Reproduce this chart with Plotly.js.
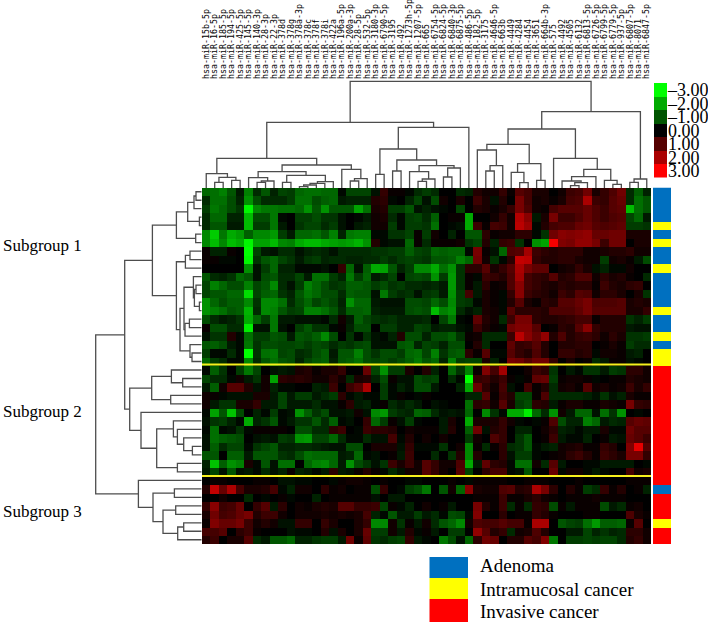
<!DOCTYPE html>
<html><head><meta charset="utf-8">
<script src="https://cdn.plot.ly/plotly-3.0.1.min.js"></script>
<style>html,body{margin:0;padding:0;background:#fff}</style></head>
<body><div id="chart" style="width:708px;height:623px"></div>
<script>
const mirSuffix = ["15b-5p","16-5p","185-5p","194-5p","425-5p","145-5p","140-3p","28-3p","22-3p","378d","378g","378a-3p","378c","378f","378i","422a","196a-5p","200a-3p","28-5p","532-5p","3180-3p","6790-5p","3195","492","1273h-5p","1207-5p","665","6754-5p","6824-5p","6840-3p","6875-5p","486-5p","182-5p","3175","4646-5p","663b","4449","4284","4454","3651","664b-3p","575","4492","4505","6132","6813-5p","6726-5p","6799-5p","6779-5p","937-5p","6807-5p","8071","6847-5p"];
const colLabels = mirSuffix.map(s => "hsa-miR-" + s);

const r0=[-1.2,-1.3,-1.5,-1,-.3,-1.5,-.5,-1,-.4,-.8,-.7,-1.2,-1.3,-1.3,-1.2,-1.2,-.1,-.8,-.8,-.8,-.2,.6,.1,.1,-.1,-.5,-.7,-.5,0,0,-.5,-.4,.4,.2,.2,.6,.1,1,.8,.3,.3,0,.2,.7,.8,1.3,.3,.6,.9,1.3,-.5,-1.1,-.4];
const r1=[-.5,-1.3,-1.3,-.9,-.4,-1.7,-.9,-.5,-.5,-.5,-.7,-1.3,-1.3,-.9,-1.1,-1.2,-.3,-.4,-.4,-.4,.4,.5,-.1,0,-.4,-.8,-.2,-.9,.2,0,.3,0,.7,.3,-.2,.4,0,1.4,.8,.2,.3,.1,.3,.8,.9,2,.7,.6,1,1.2,-.5,-1.3,-1];
const r2=[-.7,-1.4,-1.2,-.9,-.6,-2.9,-1.6,-1.4,-1.4,-1.3,-1.3,-1.2,-1.7,-1,-1.7,-1,-1,-1,-1.9,-1.3,.3,.4,-.7,-.7,-1,-.2,-.4,-.2,-.1,0,-.8,0,.4,.3,.1,.3,.6,1.4,.9,.2,.1,.8,1,1,1,1.2,.9,.7,1,1.1,-2.2,-1.3,-1];
const r3=[-.5,-1.2,-1.2,-.4,-.4,-2.2,-.9,-.9,-1.4,-.1,0,-.7,-.7,-.9,-.6,-.6,-.2,0,-.1,-.3,.2,.3,-.5,-.1,-.7,-.8,-.5,-1.1,0,.1,.1,-2,0,0,.2,.6,.2,2.1,1.6,-.3,.3,1.4,.7,.7,.9,1.2,.9,.7,.9,1,-.8,-1.2,-.3];
const r4=[-.5,-1,-1,-.3,-.3,-2.2,-.7,-.7,-1.4,-.3,0,-.6,-.8,-.8,-.5,-.7,-.2,0,-.3,-.4,.2,.2,-.7,-.1,-.7,-.7,-.6,-1.3,0,-.1,-.2,-2,.7,.1,.8,.7,.2,2.2,1.8,-.1,.4,.8,.9,.9,1.2,1.3,1,.9,1,1.1,-.7,-.7,-.6];
const r5=[-1.6,-2.4,-1.4,-2,-1.8,-1.1,-1.6,-1.6,-1.8,-.7,-.3,-1.2,-1.2,-1.3,-1,-1.5,-.4,-1.4,-1.5,-1.5,-.1,-.1,-.6,-.6,-.8,.1,-.7,.2,0,-.4,0,-1,-1,.5,.1,.2,.2,.5,.5,-.1,-.6,1.3,1.6,1.5,1.6,1.7,1.2,1.2,1.3,1.3,.3,.3,.3];
const r6=[-1.6,-2.2,-1.6,-2.2,-2,-2.9,-1.9,-1.9,-2.2,-1.6,-1.5,-2,-2.2,-2.2,-2,-1.9,-1.8,-1.9,-2.1,-1.7,.4,-.1,-.2,-.2,-1.2,.1,-.5,.1,.1,.1,.2,-.6,-.8,.4,-.4,.6,.7,-.6,0,-1.7,-1.9,2.9,1.5,1.4,1.7,1.7,1.4,.7,1.3,1.3,0,.3,.3];
const r7=[.1,-.4,-.4,.1,0,-3,-.8,-.3,-.2,-.5,-.5,-.2,-.4,-.5,-.4,-.2,-.5,-.5,-.5,-.5,-.6,-.6,-.7,-.7,-1.1,-.8,-.7,-1.2,-1.1,-1.2,-1.2,-.1,1.4,.1,-.2,-1.2,.9,1,1.9,.7,.5,.4,.5,.5,.5,.2,.2,.3,.4,.4,.5,.2,.2];
const r8=[.1,.1,-.1,-.1,0,-2.9,-.6,-1,-1.2,-.8,-.6,-.3,-.6,-.7,-.4,-.5,-.5,-.4,-.4,-.5,-.5,-.7,-.5,-.7,-.8,-.7,-.6,-1,-1,-1.1,-1.5,-1.2,1.3,.2,-.6,-.1,.5,2.3,2.2,.6,.4,.4,.5,.5,.3,.2,.2,-.7,.2,.3,.1,-.3,-.9];
const r9=[0,0,0,0,0,-1.7,-.2,-.7,-1.2,-.4,-.4,-.1,-.1,-.1,-.2,0,.6,-1.2,-.2,-1.1,-2,-1.9,-1,-.4,-.7,-1.6,-1.6,-2,-1.3,-1.7,-.6,.5,.5,1,.3,.6,1,2,1.4,1.1,1.1,0,.2,.3,.6,.3,-.2,-.4,-.1,-.1,.2,0,0];
const r10=[-1,-.5,-.4,-.6,-1.2,-1,-.2,-.9,-1,-.5,-.5,-.8,-.3,-1.3,-1.3,-.7,-.4,-1.4,-.7,-1.2,-.3,-.5,-.8,0,-.8,-.9,-.8,-1.7,-.7,-1.8,-.6,.1,-.1,.7,.6,.4,.9,1.9,.8,.6,.5,1,.4,.5,.9,.9,.2,.5,.3,.4,.1,0,-.5];
const r11=[-.8,-1.5,-1.2,-.9,-.9,-1.5,-.8,-1,-1.6,-.5,-.2,-.7,-1.5,-1.2,-.9,-.6,-.7,-1.1,-1.1,-1,-.7,-.9,-.6,-.7,-.5,-.5,-.4,-.5,-.3,-1.8,-.6,.1,-.3,.5,.1,.2,.9,1.6,.8,.6,.4,.3,.5,.4,.5,.5,.1,.7,.4,.3,.5,.6,0];
const r12=[-.8,-1,-1,-1.2,-1.2,-2.6,-.8,-1.1,-1.2,-.6,-.4,-1,-1.4,-1.2,-.9,-.9,-.5,-1.1,-1,-1,-.2,-1.4,-.7,-.5,-.6,-.2,-.6,-.7,-.3,-1.7,-.7,.8,-.3,.3,.1,-.1,.6,1.6,.7,.5,.4,.2,.7,.5,1,.9,.2,.5,.5,.3,0,.3,-.6];
const r13=[-1.7,-1.2,-.9,-1.1,-1.1,-1.6,-.6,-1.6,-1.6,-1.3,-.5,-.9,-1.2,-.8,-1,-.8,-.4,-1.7,-1.2,-1.2,-.3,-.2,-.2,-.2,-.9,-.9,-.8,-1.2,-.9,-1.6,-.7,-.6,-.1,.3,.1,-.1,.4,1,.3,.1,.5,.4,1,1,1.2,1.4,.9,.9,.9,1,.3,.4,.3];
const r14=[-1.7,-1.5,-1.3,-1,-1.1,-2.1,-.5,-1.6,-1.5,-1,-.7,-.8,-1.5,-1.5,-1.3,-1,-.5,-1.1,-1.1,-1.2,-.4,-.3,-.3,-.3,-.9,-1,-.9,-2.2,-1.5,-1.7,-.5,-.2,-.4,.3,.2,-.1,1,.5,.5,.5,.4,.9,.9,.9,1.1,1.4,1,1,1,1,.3,.3,.6];
const r15=[-.9,-.5,-.3,-.4,-.6,-2,-1.2,-.7,-1.4,-.3,-.3,-.2,-.2,-.2,-.1,-.5,.2,-.3,-1.1,-.8,-.6,-.5,-.6,-.4,-.4,-.4,-.5,0,-.8,-1.4,-.1,0,1.1,.4,.2,-.5,.7,1.4,1.4,.5,.4,.4,.5,.6,.8,.8,.1,.4,.4,.4,-.6,-.4,-.7];
const r16=[.1,-.9,-.9,-.5,-.5,-2.8,-.2,-.2,-1.4,-.2,0,-.7,-1,-.6,-.6,-.1,.1,-.4,-.9,-.9,0,-.7,-.7,-.4,-.4,-.8,-.7,-.3,-.4,-.4,-.2,-.1,.7,.3,.1,-.1,1.3,1.5,1.5,1,0,.1,.5,.4,1,1.6,.6,.4,.4,.4,-.3,-.2,-.2];
const r17=[-.2,-.6,-.6,.4,-.1,-1.3,-.7,-.7,-1,-.9,-.3,-1,-.9,-1.1,-1.6,-.9,0,-.6,-.1,-.6,-.2,-.1,-.4,.4,-.9,-.9,-.4,-.9,-.9,-1.1,-.6,.1,.2,-.5,-.5,-.5,.7,2.2,1.6,1.2,1.7,.4,.9,.4,.6,.7,.5,.2,.5,.3,-.6,-.6,-.7];
const r18=[-1,-1.1,-.9,-.3,-.1,-1.4,-.6,-.9,-.9,-.8,-.8,-.9,-.7,-.9,-.8,-.5,-.7,-.6,-.8,-.9,-.2,-.2,-.2,-1,-1.1,-.4,-.8,-.7,-.4,-.9,-.9,0,.4,-.5,0,0,1.1,.6,.7,1,.4,0,.4,.4,.5,.5,0,.1,.3,.1,-.7,-.5,-.5];
const r19=[-.7,-.1,-.1,-.5,-.1,-3,-.6,-1.3,-1.4,-.8,-.9,-.5,-.6,-.9,-1.1,-.3,-1,-1,-1.5,-.9,-.6,-.9,-.9,-.7,-1.2,-1.3,-.8,-1.5,-.6,-1,-1.1,.5,.1,1,-.1,-.1,1,.6,.4,.9,.4,0,.6,.6,.4,.5,-.1,.2,.2,.1,-.3,-.4,0];
const r20=[-1.2,-.7,-.5,-.1,-.1,-1.6,-.5,-1,-1.3,-1,-.9,-.4,-.8,-1,-1.1,-.4,-1,-1.1,-1.3,-.9,-.8,-.9,-.7,-.9,-1.1,-1.4,-1,-1.2,-.4,-1.5,-.7,-.8,-.8,.3,-.4,0,1.4,1.3,1,1.3,1.3,.6,0,.3,0,.1,-.5,-.3,.1,.1,-.2,-.1,0];
const r21=[-.1,-1.1,-.6,0,-.7,-1.4,-.8,0,-.2,-.3,-.2,.3,.4,.1,.3,.3,.6,0,0,1.2,-.8,-1.7,-.7,-.7,.3,0,.4,-.4,0,-1.2,-.6,-1.5,.1,1.5,.8,1.9,0,0,.2,.7,.5,-.6,0,-.3,-.1,-.6,-.6,-.3,-.7,-.6,.5,.5,.2];
const r22=[-.8,-.5,-.5,-.1,.2,-.3,-.6,.2,-1.9,.5,.4,.5,.4,.2,.2,.5,.2,-.5,.3,.4,-.4,-.9,.1,-.2,-.2,-.9,-.7,-.8,0,-.5,-.1,-3,.6,.7,.4,.7,.1,-.1,.1,1.1,1.2,-.7,.1,.2,.2,.1,-.1,0,.1,.1,.4,.3,.2];
const r23=[-.3,-1.1,.2,1,1,.4,-.2,.2,-.4,-.1,-.1,0,0,-.4,-.3,.7,0,.7,1,2,0,-.7,-.1,-.4,-.2,-.9,-.9,-.3,0,0,-.4,-2,1.2,.5,.2,.8,-.2,0,.8,.1,.4,-.5,.2,.3,.1,1,.2,.3,.1,.2,.7,.3,.6];
const r24=[.2,.1,-.1,-.2,-.2,-.2,.3,.3,-.3,-.8,-.3,-.7,-.7,-.3,-.5,-.7,.5,-.1,-.3,-.1,-.1,-.7,-.1,.1,0,-.1,.1,0,0,0,0,-.4,-.4,1,.1,.7,.4,-.8,-.8,.1,.9,-.5,-.5,-.5,-.5,-.4,-.2,-.6,-.2,-.4,.3,.1,.1];
const r25=[.2,-.3,-.6,-.6,.3,.3,.6,-.3,-.3,-.8,-.3,-.3,-.3,-.5,-.2,-.2,.1,.5,-.3,-.4,-.1,.1,-.5,-.3,-.5,-.3,0,-.2,-.1,0,0,-1.3,.5,.6,.2,1,.3,-.7,-.9,.5,.4,-.3,.1,.3,.3,.1,.1,.3,.2,.1,1.4,.6,.5];
const r26=[-.1,-1.9,-1,-2.3,-.9,0,-.4,-.1,-.7,-.1,-.2,-1.7,-1.1,-.6,-.9,-.2,-.2,-.3,.2,-.2,-1.6,-1.8,-.7,-.5,-.4,-1.2,-1.1,-.5,-.2,-.3,-.2,-1.2,0,-1.6,-.6,-.1,-2,-2,-2.8,-1.2,-.5,-1.7,.2,-.3,-1.2,-1.2,-.2,-1.3,-.6,-1.7,0,-.1,0];
const r27=[-.2,-.6,-.7,-.4,-.1,-2,-.4,-.6,-1,-.1,-.3,-.6,-.6,-1,-.5,-1.1,-.1,-.2,0,.6,-1.2,-.7,.1,-.2,-.7,-.1,0,0,-.3,.3,0,-2,.3,.3,.3,.6,.2,-.1,0,-.1,.1,.9,-.9,-.4,-.4,-1.5,-1.2,-.3,-.5,-.4,1,1.2,1.1];
const r28=[-.1,-1.3,-.1,-.2,-.6,-.1,.1,.1,.1,.1,0,-.9,-.9,-.5,-.5,.5,.7,0,-.1,.7,.5,.5,.4,0,.2,.1,.1,.1,-.3,.4,0,-1.1,1.3,-.2,.4,.6,0,-.4,-.4,0,.2,.5,-.4,-.3,-.1,-.3,-.3,.3,-.1,-.1,1.3,1,1];
const r29=[-.2,-1.3,-1.1,-1,-.9,0,-.2,-.3,-.2,-.7,-.6,-1.7,-1.8,-.8,-.8,-1.2,-.5,-.1,-.1,-.5,-.2,-.2,.8,-.1,.4,0,.2,0,.2,0,0,-.7,.2,0,.9,.6,0,-.6,-1,0,.1,.7,-.3,-.1,-.1,-.4,0,.1,-.3,-.2,1.2,1,.7];
const r30=[-.2,-1.1,-.5,-.8,-.8,-.1,-.6,-.8,-1,-.4,-.4,-.5,-.5,-.4,-.3,-.2,-.2,-.9,-.9,0,.3,.3,.3,-.2,.6,-.1,-.1,-.1,-.6,0,.2,-1.6,.1,-.5,.1,.5,-.5,-.6,-1,-.1,-.3,-.4,.2,.3,.4,.1,.1,.6,.4,0,1.5,2.7,1];
const r31=[-1,-1,0,-1.1,-1.1,-.3,-1,-1,-1,-.6,-.5,-.9,-1.3,-1.2,-1.2,-1.2,-.3,-.4,-1.2,-.1,-.2,0,.1,-.3,.7,0,0,-.5,0,-.6,.4,-1.6,.4,0,0,.5,-.2,-.7,-.7,-.1,0,.1,.2,.5,.7,.4,.1,.7,.5,.3,1.4,1.4,.6];
const r32=[-.4,-2.3,-1.1,-1.7,-1.5,.3,-.1,-1,-.2,-1.3,-1.3,0,-1.2,-1.5,-1.6,-1.2,-.3,-1.7,-.9,-.6,-.2,-.6,.7,.3,.7,.2,1,.6,.2,.2,.9,-2,-.3,1.1,.5,.4,-.1,-1.3,-1.3,.2,-.5,1,-.3,0,0,-.1,-.1,-.3,-.3,-.3,-.3,0,-.1];
const r33=[-.3,-.8,-.2,-1,-.2,-.3,-.1,-.5,-.2,-.4,.1,-.4,-.3,-.1,-.3,.5,-.3,-.2,.1,.4,.1,-.1,-.5,-.2,.2,.2,1,.6,.2,0,1,-.8,0,.5,.8,.8,-.1,-.2,-1,0,0,1.2,-.1,.2,.2,-.1,-.3,-.1,0,0,.8,.2,.3];
const r34=[0,.1,.1,0,0,0,.1,.1,0,-.2,-.2,-.1,-.1,0,0,-.1,.1,.2,.2,.1,0,.1,0,0,-.1,-.1,0,0,0,.1,0,-.1,.1,.1,.1,.1,0,0,.1,.1,.1,0,0,0,.1,0,0,0,0,0,.1,.1,.1];
const r35=[.4,2.3,1.2,2,.8,.3,.3,.4,.8,-.1,-.4,.2,.2,0,.5,.1,.2,0,.1,.1,-.9,.6,0,-.1,-.7,-.9,-1.4,0,-1,.2,-1.2,1.6,.3,.2,.2,.9,1,.4,.5,2,1.4,.5,0,.4,.1,-.7,-.5,.6,.1,.4,0,.1,-.4];
const r36=[0,0,.2,0,0,-.5,0,-.1,0,.1,-.1,0,0,-.4,0,.1,.1,.1,.1,.1,-.2,0,-.3,-.3,0,0,0,0,0,0,0,0,.1,.1,.1,.7,.1,.1,.3,.5,.2,.1,0,.1,.1,.1,.2,.1,.1,.1,0,0,0];
const r37=[.6,1.6,.7,.8,1.2,0,.6,1,-.3,.5,0,.2,.1,.3,.4,.3,1,1,.6,.6,.7,-.8,.1,-.1,-.4,0,.2,0,.1,-.3,0,0,1.4,.4,.1,.7,-.5,.1,-.5,.6,.5,-.9,.1,-.3,.1,.1,.1,-.9,-.3,-.5,.1,.2,0];
const r38=[.3,1.3,.8,.9,1.2,1.4,.4,.7,.7,.2,0,.2,.2,.2,.3,.2,.3,.2,.3,.8,-.4,-.1,-1,-.3,-.3,-.7,-.3,-.5,-.1,-.9,-.8,-.1,1.5,0,0,.5,0,.1,.1,.6,.4,.1,0,0,0,.1,.1,0,0,0,.9,.3,.1];
const r39=[.1,1.5,1.2,1.2,1.4,.7,.2,.4,.2,-.2,-.2,.6,.6,0,.6,.3,0,0,.3,.6,-1.6,-1.6,.2,-.6,.1,-.3,.2,-.5,-1,-1.2,-1.6,.2,.9,.8,.8,1,.8,.8,.1,2,2,0,-1,-.8,-.7,-1.3,-1.8,-1.1,-1.1,-1.2,.1,1,0];
const r40=[.8,.8,1,0,.5,.7,.1,0,0,0,-.2,-.1,-.1,0,.4,-.2,.3,0,.3,1.2,-.7,-.7,.2,-.3,.4,-.1,.1,-.3,0,-.7,-.7,0,1.7,1,.4,.6,-.5,.2,.3,.9,.4,0,0,-.3,-.3,-.8,-.4,-.6,-.4,-.5,.5,.5,.2];
const r41=[.4,.7,0,.3,.3,1,-.5,-.3,-1,-1,-1.2,-.4,-.4,-.6,-.7,-.7,-.3,1.3,.1,1.1,-.6,-.5,-.7,-.8,.6,-.3,-.1,0,-1.4,-.9,-.2,-1.2,.5,1.3,1.2,0,.4,.4,1,.8,1.5,-1.4,0,-.7,-.7,-.8,-.7,-.8,-.8,-.5,.4,.6,.2];
const matrix=[r0,r1,r2,r3,r4,r5,r6,r7,r8,r9,r10,r11,r12,r13,r14,r15,r16,r17,r18,r19,r20,r21,r22,r23,r24,r25,r26,r27,r28,r29,r30,r31,r32,r33,r34,r35,r36,r37,r38,r39,r40,r41];

// 0 adenoma, 1 intramucosal, 2 invasive
const sampleClass=[0,0,0,0,1,0,1,0,0,1,0,0,0,0,1,0,0,1,0,1,1,2,2,2,2,2,2,2,2,2,2,2,2,2,2,0,2,2,2,1,2,2];
const classNames=["Adenoma","Intramucosal cancer","Invasive cancer"];
const classColors=["#0070c0","#ffff00","#ff0000"];
const scaleSteps=[-3,-2,-1,0,1,2,3];
const scaleLabels=["–3.00","–2.00","–1.00","0.00","1.00","2.00","3.00"];
const subgroupNames=["Subgroup 1","Subgroup 2","Subgroup 3"];

// dendrograms: [merge height, left, right]; numbers are leaf indices
const colTree=[106.7,
 [65.7,
  [29.7,
   [14.3,0,[10.7,[5.7,1,2],[7.7,3,4]]],
   [23,
    [16.3,
     [10.3,5,[7,[5.7,6,7],8]],
     [12.7,[5.7,9,10],[6.3,[4.7,[3,[1.3,11,12],13],14],15]]],
    [18.7,16,[9.3,[7,17,18],19]]]],
  [60.7,
   [39,
    [13.7,20,21],
    [28,[17,22,23],[22.3,[16.3,24,[9,[6.7,25,26],27]],[20,[11,28,29],30]]]],
   31]],
 [76.3,
  [59,
   [43.7,
    [38,32,[22.3,[17,33,34],35]],
    [24.3,[15.7,36,[5.3,37,38]],[7.7,39,40]]],
   [29.7,41,[18.7,[11.3,[7,42,[5.3,[2.3,43,44],45]],46],[7.7,47,[3.7,48,49]]]]],
  [9,[5.7,50,51],52]]];
const rowTree=[106,
 [77,
  [49.3,
   [25.3,[14,[7.7,[5.7,0,1],2],[2.3,3,4]],[6,5,6]],
   [25.3,
    [16.3,[11.7,7,8],9],
    [21.7,
     [17.7,[8.3,10,[7.3,[5.7,11,12],[2.3,13,14]]],[16.7,[12.3,15,16],17]],
     [11.7,18,[9.7,19,20]]]]],
  [72,
   [50,[30.3,21,[19,22,23]],[31,24,25]],
   [60.7,26,[45,[28.3,27,[24.3,28,[18,29,[9.3,30,31]]]],[24.3,32,33]]]]],
 [63.3,
  34,
  [48.7,[27.3,35,36],[38.7,[26,37,38],[24,[18,39,40],41]]]]];

function treeLines(node, out){
  if(typeof node==="number") return {p:node,h:0};
  const a=treeLines(node[1],out), b=treeLines(node[2],out), h=node[0];
  out.p.push(a.p,a.p,b.p,b.p,null);
  out.h.push(a.h,h,h,b.h,null);
  return {p:(a.p+b.p)/2,h};
}
const colL={p:[],h:[]}; treeLines(colTree,colL);
const rowL={p:[],h:[]}; treeLines(rowTree,rowL);

const W=708,H=623;
const fx=(a,b)=>[a/W,b/W], fy=(a,b)=>[1-b/H,1-a/H];
const nC=colLabels.length,nR=matrix.length;
const idxC=colLabels.map((_,i)=>i), idxR=matrix.map((_,i)=>i);
const heatScale=[[0,"#00ff00"],[.5,"#000000"],[1,"#ff0000"]];
const serif="Liberation Serif, Times New Roman, serif";
const lineStyle={color:"#4d4d4d",width:1.3};
const hidden=(o)=>Object.assign({visible:false,fixedrange:true},o);

const traces=[
 {type:"heatmap",x:idxC,y:idxR,z:matrix,xaxis:"x",yaxis:"y",colorscale:heatScale,zmin:-3,zmax:3,showscale:false,hoverinfo:"skip"},
 {type:"heatmap",x:[0],y:idxR,z:sampleClass.map(c=>[c]),xaxis:"x4",yaxis:"y",colorscale:[[0,classColors[0]],[.5,classColors[1]],[1,classColors[2]]],zmin:0,zmax:2,showscale:false,hoverinfo:"skip"},
 {type:"heatmap",x:[0],y:scaleSteps,z:scaleSteps.map(v=>[v]),xaxis:"x5",yaxis:"y5",colorscale:heatScale,zmin:-3,zmax:3,showscale:false,hoverinfo:"skip"},
 {type:"scatter",mode:"lines",x:colL.p,y:colL.h,xaxis:"x",yaxis:"y2",line:lineStyle,hoverinfo:"skip",cliponaxis:false},
 {type:"scatter",mode:"lines",x:rowL.h,y:rowL.p,xaxis:"x3",yaxis:"y",line:lineStyle,hoverinfo:"skip",cliponaxis:false}
];

const yellowLine=(r)=>({type:"line",xref:"x",yref:"y",x0:-0.7,x1:nC-0.5,y0:r,y1:r,line:{color:"#f7f01c",width:2},layer:"above"});
const swatchEdges=[557,578,599,622];
const swatch=(i)=>({type:"rect",xref:"paper",yref:"paper",x0:429.5/W,x1:468/W,y0:1-swatchEdges[i+1]/H,y1:1-swatchEdges[i]/H,fillcolor:classColors[i],line:{width:0}});
const txt=(t,px,py,sz)=>({text:t,xref:"paper",yref:"paper",x:px/W,y:1-py/H,xanchor:"left",yanchor:"middle",showarrow:false,font:{family:serif,size:sz,color:"#000"}});

const layout={
 width:W,height:H,margin:{l:0,r:0,t:0,b:0},paper_bgcolor:"#fff",plot_bgcolor:"#fff",showlegend:false,
 xaxis:{domain:fx(202,651),range:[-.5,nC-.5],anchor:"y2",side:"top",tickmode:"array",tickvals:idxC,ticktext:colLabels,tickangle:-90,ticks:"",showgrid:false,zeroline:false,showline:false,fixedrange:true,tickfont:{family:"DejaVu Sans Mono, monospace",size:8.3,color:"#000"}},
 yaxis:hidden({domain:fy(187.5,544),range:[nR-.5,-.5]}),
 yaxis2:hidden({domain:fy(80,188),range:[0,108]}),
 xaxis3:hidden({domain:fx(95,201.7),range:[106.7,0],anchor:"y"}),
 xaxis4:hidden({domain:fx(653,671),range:[-.5,.5],anchor:"y"}),
 xaxis5:hidden({domain:fx(654,667),range:[-.5,.5],anchor:"y5"}),
 yaxis5:{domain:fy(83,177.5),range:[3.5,-3.5],anchor:"x5",side:"right",tickmode:"array",tickvals:scaleSteps,ticktext:scaleLabels,ticks:"",showgrid:false,zeroline:false,showline:false,fixedrange:true,ticklabelstandoff:0,tickfont:{family:serif,size:18,color:"#000"}},
 shapes:[yellowLine(20.35),yellowLine(33.5),swatch(0),swatch(1),swatch(2)],
 annotations:[
  txt(subgroupNames[0],1,245,17),txt(subgroupNames[1],1,411,17),txt(subgroupNames[2],1,511,17),
  txt(classNames[0],478,565,19),txt(classNames[1],478,589,19),txt(classNames[2],478,611.5,19)
 ]
};
Plotly.newPlot("chart",traces,layout,{displayModeBar:false,staticPlot:true});
</script></body></html>
